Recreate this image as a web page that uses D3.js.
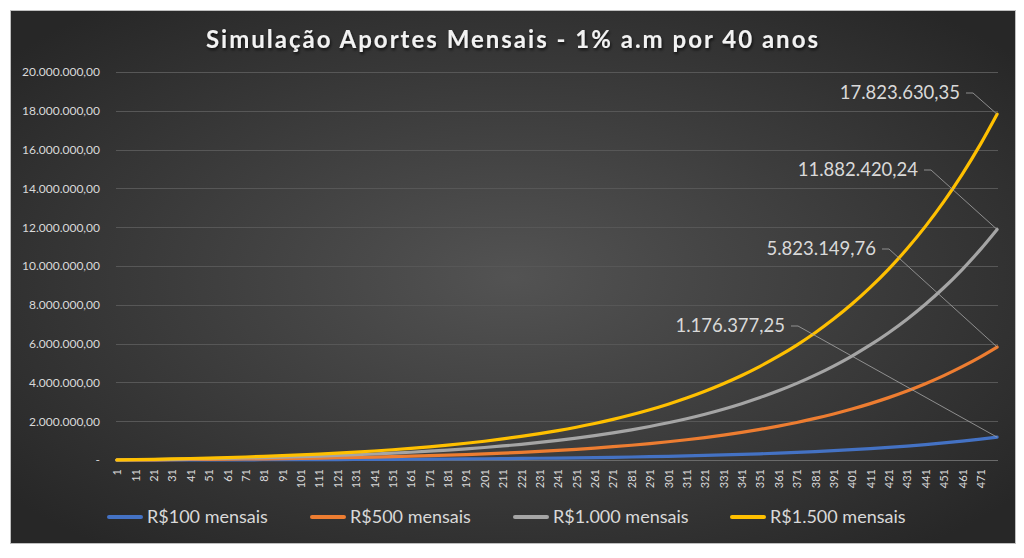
<!DOCTYPE html>
<html>
<head>
<meta charset="utf-8">
<script src="https://cdn.jsdelivr.net/npm/d3@7"></script>
<style>
  body { margin: 0; background: #ffffff; }
  svg { display: block; font-family: Lato, "Open Sans", sans-serif; }
</style>
</head>
<body>
<svg width="1024" height="558"></svg>
<script>
// Meses amostrados (eixo de categorias 1..480)
const meses = [1, 11, 21, 31, 41, 51, 61, 71, 81, 91, 101, 111, 121, 131, 141, 151, 161, 171, 181, 191,
  201, 211, 221, 231, 241, 251, 261, 271, 281, 291, 301, 311, 321, 331, 341, 351, 361, 371, 381, 391,
  401, 411, 421, 431, 441, 451, 461, 471, 480];

// Rótulos do eixo X (a cada 10 meses)
const rotulosX = [1, 11, 21, 31, 41, 51, 61, 71, 81, 91, 101, 111, 121, 131, 141, 151, 161, 171, 181, 191,
  201, 211, 221, 231, 241, 251, 261, 271, 281, 291, 301, 311, 321, 331, 341, 351, 361, 371, 381, 391,
  401, 411, 421, 431, 441, 451, 461, 471];

// Ticks do eixo Y
const ticksY = [0, 2000000, 4000000, 6000000, 8000000, 10000000, 12000000, 14000000, 16000000, 18000000, 20000000];

// Nomes das séries
const nomes = ["R$100 mensais", "R$500 mensais", "R$1.000 mensais", "R$1.500 mensais"];

// Saldo acumulado
const serie100 = [100, 1160, 2320, 3610, 5040, 6610, 8350, 10270, 12390, 14730, 17320, 20180, 23340, 26820,
  30670, 34930, 39630, 44820, 50560, 56890, 63890, 71620, 80160, 89600, 100020, 111530, 124240, 138290,
  153800, 170940, 189870, 210780, 233870, 259390, 287570, 318710, 353100, 391080, 433040, 479400, 530600,
  587160, 649630, 718640, 794880, 879080, 972100, 1074850, 1176377.25];

const serie500 = [500, 5740, 11480, 17870, 24950, 32720, 41330, 50840, 61330, 72910, 85730, 99890, 115530,
  132760, 151820, 172900, 196170, 221860, 250270, 281610, 316260, 354520, 396790, 443520, 495100, 552070,
  614990, 684540, 761310, 846150, 939860, 1043360, 1157660, 1283980, 1423470, 1577610, 1747850, 1935850,
  2143550, 2373030, 2626470, 2906440, 3215670, 3557270, 3934660, 4351450, 4811900, 5320510, 5823149.76];

const serie1000 = [1010, 11720, 23430, 36460, 50900, 66760, 84340, 103730, 125140, 148770, 174930, 203820,
  235730, 270880, 309770, 352790, 400260, 452680, 510660, 574590, 645290, 723360, 809620, 904960, 1010200,
  1126450, 1254820, 1396730, 1553380, 1726490, 1917690, 2128880, 2362090, 2619840, 2904460, 3218970,
  3566310, 3949910, 4373700, 4841940, 5359060, 5930320, 6561260, 7258260, 8028290, 8878710, 9818210,
  10855990, 11882420.24];

const serie1500 = [1515, 17580, 35150, 54690, 76350, 100140, 126510, 155600, 187710, 223160, 262400, 305730,
  353600, 406320, 464660, 529190, 600390, 679020, 765990, 861890, 967940, 1085040, 1214430, 1357440,
  1515300, 1689680, 1882230, 2095100, 2330070, 2589740, 2876540, 3193320, 3543140, 3929760, 4356690,
  4828460, 5349470, 5924870, 6560550, 7262910, 8038590, 8895480, 9841890, 10887390, 12042440, 13318070,
  14727320, 16283990, 17823630.35];

const valores = [serie100, serie500, serie1000, serie1500];
const cores = ["#4472C4", "#ED7D31", "#A5A5A5", "#FFC000"];

// Posição (canto direito, centro vertical) dos rótulos de dados, em pixels
const posRotulos = [[785, 326], [876, 249], [918, 170], [960, 93]];
// Posição dos itens da legenda (x inicial da linha)
const posLegenda = [109, 312, 515, 732];

const ptBR = d3.formatLocale({ decimal: ",", thousands: ".", grouping: [3], currency: ["R$", ""] });
const fmt = ptBR.format(",.2f");

const svg = d3.select("svg");
const defs = svg.append("defs");

// Fundo com gradiente radial (estilo Excel escuro)
const grad = defs.append("radialGradient").attr("id", "bg")
  .attr("cx", "50%").attr("cy", "50%").attr("r", "65%");
grad.append("stop").attr("offset", "0%").attr("stop-color", "#535353");
grad.append("stop").attr("offset", "100%").attr("stop-color", "#272727");

const sombra = defs.append("filter").attr("id", "sombra")
  .attr("x", "-10%").attr("y", "-30%").attr("width", "120%").attr("height", "160%");
sombra.append("feDropShadow").attr("dx", 1).attr("dy", 2).attr("stdDeviation", 1.5)
  .attr("flood-color", "#000").attr("flood-opacity", 0.7);

svg.append("rect")
  .attr("x", 10.5).attr("y", 10.5).attr("width", 1005).attr("height", 533)
  .attr("fill", "url(#bg)").attr("stroke", "#bfbfbf").attr("stroke-width", 1);

// Título
svg.append("text")
  .attr("x", 512).attr("y", 48)
  .attr("text-anchor", "middle")
  .attr("fill", "#f2f2f2")
  .attr("font-size", 24).attr("font-weight", "bold")
  .attr("textLength", 612).attr("lengthAdjust", "spacing")
  .attr("filter", "url(#sombra)")
  .text("Simulação Aportes Mensais - 1% a.m por 40 anos");

// Escalas
const x = d3.scaleLinear().domain([0.5, 480.5]).range([116, 998]);
const y = d3.scaleLinear().domain([0, 20000000]).range([460, 72]);

// Grade horizontal
svg.append("g")
  .selectAll("line")
  .data(ticksY)
  .enter()
  .append("line")
  .attr("x1", 116).attr("x2", 998)
  .attr("y1", d => Math.round(y(d)) + 0.5).attr("y2", d => Math.round(y(d)) + 0.5)
  .attr("stroke", d => d === 0 ? "#6a6a6a" : "#575757")
  .attr("stroke-width", 1);

// Eixo Y
const eixoY = svg.append("g")
  .attr("transform", "translate(116,0)")
  .call(d3.axisLeft(y).tickValues(ticksY).tickSize(0).tickPadding(16)
    .tickFormat(d => d === 0 ? "-" : fmt(d)));
eixoY.select(".domain").remove();
eixoY.selectAll("text").attr("fill", "#d9d9d9").attr("font-size", 12).attr("font-family", "Lato, sans-serif");

// Eixo X (rótulos girados)
const eixoX = svg.append("g")
  .attr("transform", "translate(0,460)")
  .call(d3.axisBottom(x).tickValues(rotulosX).tickSize(0).tickFormat(d => d));
eixoX.select(".domain").remove();
eixoX.selectAll("text")
  .attr("fill", "#d9d9d9").attr("font-size", 11).attr("font-family", "Lato, sans-serif")
  .attr("transform", "rotate(-90)")
  .attr("text-anchor", "end")
  .attr("x", -9).attr("y", 0).attr("dy", "0.35em");

// Linhas das séries
const linha = d3.line()
  .x((d, i) => x(meses[i]))
  .y(d => y(d))
  .curve(d3.curveMonotoneX);

svg.append("g")
  .selectAll("path")
  .data(valores)
  .enter()
  .append("path")
  .attr("d", linha)
  .attr("fill", "none")
  .attr("stroke", (d, i) => cores[i])
  .attr("stroke-width", 3.2)
  .attr("stroke-linecap", "round")
  .attr("stroke-linejoin", "round");

// Rótulos de dados no último mês, com linhas de chamada
const ultimo = meses.length - 1;
const rot = svg.append("g");
valores.forEach((serie, i) => {
  const [rx, ry] = posRotulos[i];
  const px = x(meses[ultimo]);
  const py = y(serie[ultimo]);
  rot.append("polyline")
    .attr("points", `${rx + 6},${ry} ${rx + 13},${ry} ${px},${py}`)
    .attr("fill", "none")
    .attr("stroke", "#a6a6a6")
    .attr("stroke-width", 0.8);
  rot.append("text")
    .attr("x", rx).attr("y", ry)
    .attr("dy", "0.35em")
    .attr("text-anchor", "end")
    .attr("fill", "#d9d9d9")
    .attr("font-size", 18.5)
    .text(fmt(serie[ultimo]));
});

// Legenda
const leg = svg.append("g");
nomes.forEach((nome, i) => {
  const lx = posLegenda[i];
  leg.append("line")
    .attr("x1", lx).attr("x2", lx + 32)
    .attr("y1", 517).attr("y2", 517)
    .attr("stroke", cores[i]).attr("stroke-width", 4)
    .attr("stroke-linecap", "round");
  leg.append("text")
    .attr("x", lx + 38).attr("y", 517)
    .attr("dy", "0.35em")
    .attr("fill", "#d9d9d9")
    .attr("font-size", 18)
    .text(nome);
});
</script>
</body>
</html>
